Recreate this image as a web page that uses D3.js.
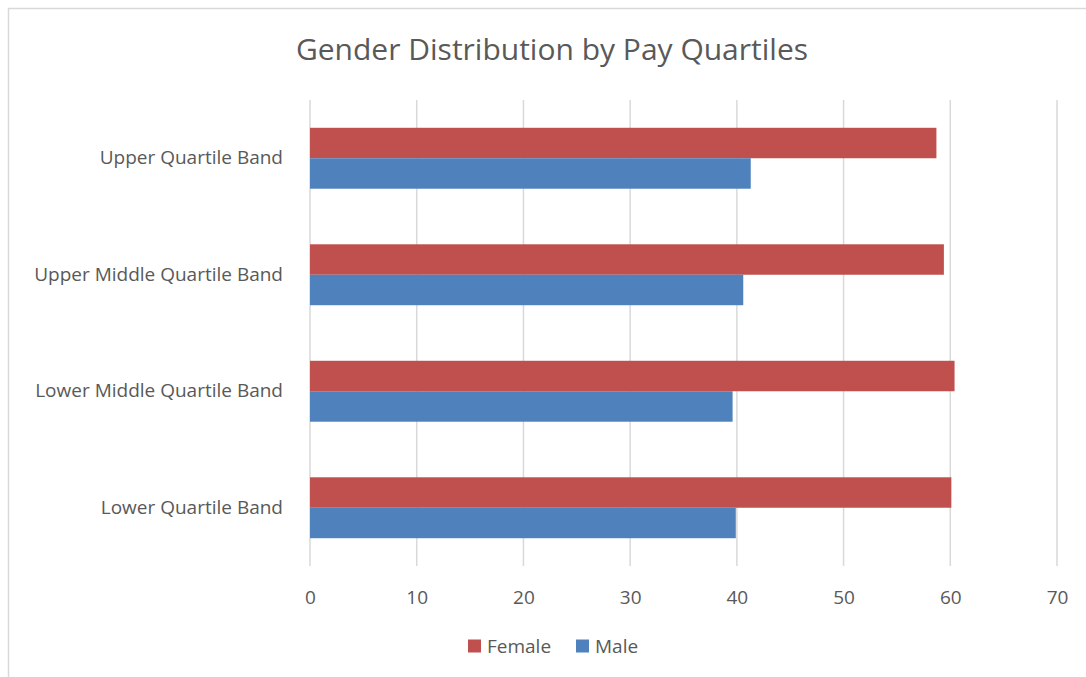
<!DOCTYPE html>
<html>
<head>
<meta charset="utf-8">
<script src="https://cdn.jsdelivr.net/npm/d3@7"></script>
<style>
  html, body { margin: 0; padding: 0; background: #fff; }
  svg { display: block; font-family: "Open Sans", "Noto Sans", sans-serif; }
</style>
</head>
<body>
<div id="chart"></div>
<script>
// Data
const categories = ['Upper Quartile Band', 'Upper Middle Quartile Band', 'Lower Middle Quartile Band', 'Lower Quartile Band'];
const seriesNames = ['Female', 'Male'];
const femaleValues = [58.7, 59.4, 60.4, 60.1];
const maleValues = [41.3, 40.6, 39.6, 39.9];
const tickValues = [0, 10, 20, 30, 40, 50, 60, 70];
const colors = ['#C0504D', '#4F81BD'];

const width = 1086, height = 677;
const margin = { top: 100, right: 29, bottom: 111, left: 310 };
const labelSize = 19;

const svg = d3.select('#chart')
    .append('svg')
    .attr('width', width)
    .attr('height', height);

// Chart border
svg.append('rect')
    .attr('x', 8.5).attr('y', 8.5)
    .attr('width', width + 20).attr('height', height + 20)
    .attr('fill', 'none')
    .attr('stroke', '#D9D9D9')
    .attr('stroke-width', 1.5);

// Title
svg.append('text')
    .attr('x', 552).attr('y', 60)
    .attr('text-anchor', 'middle')
    .attr('font-size', 30)
    .attr('fill', '#595959')
    .text('Gender Distribution by Pay Quartiles');

// Scales
const x = d3.scaleLinear()
    .domain([0, 70])
    .range([margin.left, width - margin.right]);

const y = d3.scaleBand()
    .domain(categories)
    .range([margin.top, height - margin.bottom])
    .paddingInner(0.477)
    .paddingOuter(0.2385);

const ySub = d3.scaleBand()
    .domain(seriesNames)
    .range([0, y.bandwidth()]);

// Gridlines
svg.append('g')
    .selectAll('line')
    .data(tickValues)
    .join('line')
    .attr('x1', d => x(d)).attr('x2', d => x(d))
    .attr('y1', margin.top).attr('y2', height - margin.bottom)
    .attr('stroke', '#D9D9D9')
    .attr('stroke-width', 1.5);

// Bars
const rows = categories.map((c, i) => ({ cat: c, values: [femaleValues[i], maleValues[i]] }));

const group = svg.append('g')
    .selectAll('g')
    .data(rows)
    .join('g')
    .attr('transform', d => `translate(0,${y(d.cat)})`);

group.selectAll('rect')
    .data(d => d.values.map((v, j) => ({ name: seriesNames[j], value: v, color: colors[j] })))
    .join('rect')
    .attr('x', x(0))
    .attr('y', d => ySub(d.name))
    .attr('width', d => x(d.value) - x(0))
    .attr('height', ySub.bandwidth())
    .attr('fill', d => d.color);

// X axis tick labels
const xAxis = d3.axisBottom(x)
    .tickValues(tickValues)
    .tickSize(0)
    .tickPadding(0);

svg.append('g')
    .attr('transform', `translate(0,${height - margin.bottom + 24})`)
    .call(xAxis)
    .call(g => g.select('.domain').remove())
    .call(g => g.selectAll('text')
        .attr('font-size', labelSize)
        .attr('font-family', '"Open Sans", "Noto Sans", sans-serif')
        .attr('fill', '#595959'));

// Y axis labels
const yAxis = d3.axisLeft(y).tickSize(0).tickPadding(27);

svg.append('g')
    .attr('transform', `translate(${margin.left},0)`)
    .call(yAxis)
    .call(g => g.select('.domain').remove())
    .call(g => g.selectAll('text')
        .attr('font-size', labelSize)
        .attr('font-family', '"Open Sans", "Noto Sans", sans-serif')
        .attr('fill', '#595959'));

// Legend
const legendItems = [
    { name: 'Female', color: colors[0], x: 468 },
    { name: 'Male', color: colors[1], x: 576 }
];

const legend = svg.append('g')
    .selectAll('g')
    .data(legendItems)
    .join('g')
    .attr('transform', d => `translate(${d.x},646)`);

legend.append('rect')
    .attr('x', 0).attr('y', -6.5)
    .attr('width', 13).attr('height', 13)
    .attr('fill', d => d.color);

legend.append('text')
    .attr('x', 19).attr('y', 0)
    .attr('dy', '0.35em')
    .attr('font-size', labelSize)
    .attr('fill', '#595959')
    .text(d => d.name);
</script>
</body>
</html>
